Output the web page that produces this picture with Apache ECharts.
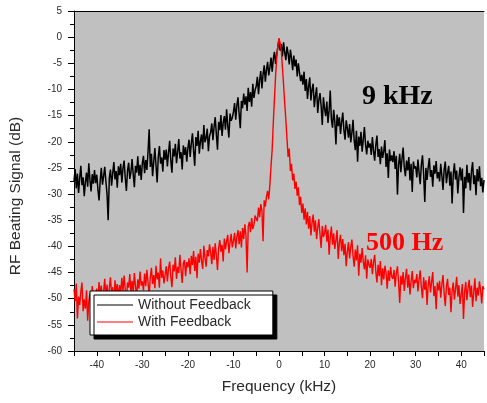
<!DOCTYPE html>
<html>
<head>
<meta charset="utf-8">
<script src="https://cdn.jsdelivr.net/npm/echarts@6/dist/echarts.min.js"></script>
<style>html,body{margin:0;padding:0;background:#fff;}#chart{width:487px;height:403px;}</style>
</head>
<body>
<div id="chart"></div>
<script>
// Frequency grid (kHz): first sample and spacing of the spectrum samples
var freqStart = -45;
var freqStep = 0.25;

// Axis ticks
var xTickLabels = [-40, -30, -20, -10, 0, 10, 20, 30, 40];
var yTickLabels = [5, 0, -5, -10, -15, -20, -25, -30, -35, -40, -45, -50, -55, -60];

var seriesNames = ['Without Feedback', 'With Feedback'];

// RF beating signal (dB), without feedback (0.25 kHz steps from -45 to 45)
var withoutFeedback = [
-27.5,-25.2,-28.9,-26.1,-29.8,-27.0,-24.6,-28.3,-26.8,-30.4,-27.7,-25.9,-28.6,-24.1,-27.3,-29.5,-26.2,-28.0,-25.4,-27.9,
-26.3,-29.1,-31.2,-27.4,-25.0,-28.2,-26.6,-24.8,-27.5,-30.0,-35.0,-26.9,-25.3,-28.4,-26.0,-23.9,-27.2,-25.6,-28.8,-24.7,
-26.4,-24.2,-27.8,-25.1,-23.6,-26.9,-29.4,-25.5,-24.0,-27.1,-25.8,-23.3,-26.2,-28.7,-24.6,-25.9,-22.8,-26.5,-24.4,-27.3,
-24.1,-22.7,-26.0,-23.5,-25.4,-21.9,-17.6,-24.8,-22.3,-26.6,-23.9,-21.2,-24.5,-27.8,-22.9,-20.8,-24.2,-23.0,-25.7,-21.6,
-23.4,-21.5,-24.7,-22.1,-19.8,-23.6,-25.9,-21.3,-22.8,-20.4,-24.1,-21.9,-19.5,-23.2,-22.0,-25.3,-20.7,-22.5,-21.0,-23.8,
-21.2,-19.6,-22.9,-20.3,-18.4,-21.7,-24.6,-19.1,-20.8,-17.9,-22.3,-19.9,-18.6,-21.4,-16.8,-20.1,-19.3,-17.5,-21.8,-18.9,
-18.2,-16.5,-19.7,-17.1,-15.3,-18.6,-21.5,-16.2,-17.8,-14.9,-18.9,-16.4,-15.1,-17.7,-13.8,-16.9,-19.2,-14.6,-16.0,-15.4,
-14.3,-12.6,-15.8,-13.1,-11.5,-14.7,-17.4,-12.2,-13.6,-10.8,-12.9,-11.3,-14.1,-9.7,-12.4,-10.5,-13.3,-8.9,-11.6,-10.1,
-9.4,-7.6,-10.9,-8.2,-6.5,-9.8,-7.1,-5.4,-8.5,-6.2,-4.7,-7.3,-5.8,-3.9,-6.6,-4.2,-2.8,-5.1,-3.3,-1.9,
-0.4,-2.6,-1.3,-3.7,-1.0,-2.9,-4.4,-1.8,-3.1,-5.2,-2.4,-4.0,-6.3,-3.5,-5.6,-4.3,-7.5,-5.0,-6.8,-8.4,
-7.2,-9.1,-6.6,-10.3,-8.0,-11.8,-9.4,-7.7,-12.1,-10.0,-8.9,-13.4,-11.2,-9.6,-14.5,-12.0,-10.7,-13.2,-16.8,-11.5,
-13.6,-15.1,-12.3,-16.4,-14.0,-10.2,-15.7,-17.3,-13.9,-16.1,-20.5,-14.8,-17.0,-15.3,-18.5,-16.2,-14.4,-17.8,-19.6,-15.9,
-17.4,-19.2,-16.6,-20.1,-18.3,-15.8,-19.7,-21.6,-17.9,-23.8,-19.0,-20.8,-18.1,-21.9,-19.5,-17.2,-20.6,-22.4,-19.8,-21.1,
-20.3,-22.5,-19.1,-21.7,-23.6,-20.6,-18.8,-22.9,-21.4,-24.3,-20.9,-23.1,-21.8,-19.7,-24.8,-22.2,-26.9,-21.5,-23.7,-22.6,
-23.9,-21.8,-25.2,-22.7,-30.1,-24.4,-22.3,-25.8,-23.3,-21.1,-24.9,-26.6,-23.6,-25.5,-22.9,-27.4,-24.2,-29.6,-23.8,-25.1,
-24.7,-26.8,-23.4,-25.9,-28.1,-24.3,-22.6,-26.2,-31.5,-25.0,-27.3,-24.9,-23.1,-26.7,-25.4,-28.6,-24.5,-26.1,-23.7,-27.0,
-25.8,-27.6,-24.2,-26.5,-29.2,-25.3,-23.8,-27.9,-26.0,-24.6,-28.4,-25.7,-31.8,-26.3,-24.1,-27.2,-25.5,-29.9,-26.8,-24.9,
-27.4,-25.1,-33.6,-26.7,-28.9,-24.4,-27.8,-26.0,-29.3,-25.6,-23.9,-28.1,-26.4,-30.2,-25.2,-27.6,-24.7,-28.5,-26.9,-29.7,
-27.3
];

// RF beating signal (dB), with feedback (0.25 kHz steps from -45 to 45)
var withFeedback = [
-48.2,-50.5,-47.1,-53.8,-49.6,-51.2,-48.7,-46.9,-52.4,-50.1,-51.9,-48.4,-54.2,-50.6,-49.0,-51.5,-47.6,-49.8,-52.1,-48.9,
-48.1,-50.3,-46.8,-49.4,-47.5,-51.0,-48.6,-46.2,-49.9,-47.3,-50.7,-48.0,-45.9,-49.2,-47.8,-51.6,-46.5,-48.9,-47.2,-50.0,
-47.4,-49.1,-46.0,-48.5,-45.6,-48.2,-50.4,-46.9,-47.9,-45.3,-49.0,-46.6,-48.8,-45.1,-47.7,-49.6,-46.3,-48.1,-44.8,-47.5,
-46.7,-48.4,-45.2,-47.6,-44.5,-46.9,-49.3,-45.8,-44.1,-47.2,-45.5,-48.0,-43.7,-46.3,-45.0,-47.9,-42.3,-46.0,-44.6,-47.1,
-45.4,-43.8,-46.7,-44.2,-42.9,-45.9,-47.8,-43.5,-44.8,-42.1,-46.2,-43.9,-45.1,-41.6,-44.5,-47.0,-43.2,-42.6,-45.7,-43.0,
-44.0,-42.3,-45.3,-41.8,-43.6,-40.9,-44.7,-42.0,-46.1,-41.4,-43.1,-40.5,-42.8,-44.3,-39.9,-42.2,-43.9,-40.7,-41.9,-39.6,
-41.2,-43.4,-40.1,-42.6,-39.4,-41.7,-44.5,-40.3,-38.8,-41.0,-39.7,-42.9,-38.5,-40.6,-39.0,-37.8,-41.3,-39.3,-37.6,-40.2,
-39.0,-37.4,-40.4,-38.2,-36.9,-39.6,-37.1,-40.2,-36.5,-38.6,-35.8,-37.9,-45.0,-36.2,-35.3,-37.3,-34.6,-36.7,-35.9,-34.1,
-33.8,-35.2,-32.6,-34.4,-31.9,-33.1,-39.0,-31.2,-32.4,-30.5,-29.4,-31.0,-28.2,-24.6,-21.5,-16.3,-11.8,-7.4,-3.9,-1.6,
-0.2,-1.2,-2.5,-5.8,-9.0,-12.6,-15.8,-19.4,-22.9,-21.3,-25.6,-24.2,-27.4,-26.1,-29.0,-27.6,-30.3,-28.7,-32.1,-30.5,
-33.6,-31.8,-34.9,-32.7,-35.8,-33.4,-36.6,-34.2,-37.9,-35.5,-33.9,-37.2,-35.0,-38.6,-36.4,-34.8,-37.7,-40.3,-36.1,-38.2,
-37.4,-35.9,-39.1,-36.8,-41.6,-38.3,-36.2,-39.7,-37.5,-40.5,-38.8,-36.9,-42.4,-39.3,-37.8,-40.9,-38.6,-41.7,-39.5,-43.8,
-41.0,-39.2,-42.3,-40.1,-38.7,-41.8,-43.9,-40.6,-42.7,-39.8,-45.6,-41.4,-43.1,-40.3,-42.9,-44.4,-41.7,-46.2,-42.5,-43.6,
-44.1,-42.4,-45.3,-43.0,-41.6,-44.8,-46.9,-43.5,-45.7,-42.8,-47.4,-44.2,-46.3,-43.7,-45.0,-48.1,-44.6,-46.6,-43.9,-45.8,
-46.2,-44.5,-47.7,-45.1,-43.8,-46.9,-50.8,-45.6,-47.3,-44.9,-48.5,-46.0,-44.3,-47.9,-45.4,-49.2,-46.7,-44.7,-48.0,-46.4,
-47.0,-45.3,-48.6,-46.2,-44.6,-47.8,-49.9,-45.9,-48.3,-46.5,-51.2,-47.4,-45.7,-48.8,-46.8,-44.9,-49.5,-47.6,-52.0,-46.9,
-48.4,-46.6,-49.8,-47.3,-45.5,-48.9,-51.4,-47.7,-46.2,-49.3,-47.9,-52.6,-48.5,-46.9,-50.2,-48.1,-45.8,-49.6,-47.4,-51.0,
-49.1,-47.2,-53.9,-48.6,-46.8,-50.3,-48.0,-46.4,-49.7,-47.5,-51.6,-48.8,-46.1,-50.5,-47.9,-49.4,-46.7,-48.3,-50.9,-47.6,
-48.2
];

var annotations = [
  { text: '9 kHz', color: '#000000' },
  { text: '500 Hz', color: '#ff0000' }
];

function pairs(vals) {
  var out = [];
  for (var i = 0; i < vals.length; i++) out.push([freqStart + i * freqStep, vals[i]]);
  return out;
}

var chart = echarts.init(document.getElementById('chart'), null, { renderer: 'canvas' });
var labelFont = { fontFamily: 'Liberation Sans, Arial, sans-serif', fontSize: 10, color: '#2a2a2a' };

chart.setOption({
  animation: false,
  backgroundColor: '#ffffff',
  grid: { left: 74, top: 11, right: -2, bottom: 52, show: true, backgroundColor: '#c0c0c0', borderWidth: 0 },
  xAxis: [{
    type: 'value', min: -45, max: 45, interval: 5, position: 'bottom',
    name: 'Frequency (kHz)', nameLocation: 'middle', nameGap: 28,
    nameTextStyle: { fontFamily: 'Liberation Sans, Arial, sans-serif', fontSize: 15.5, color: '#2a2a2a' },
    axisLine: { show: true, onZero: false, lineStyle: { color: '#000', width: 1 } },
    axisTick: { show: true, length: 5, lineStyle: { color: '#000' } },
    axisLabel: Object.assign({ margin: 9, formatter: function (v) { return xTickLabels.indexOf(v) >= 0 ? String(v) : ''; } }, labelFont),
    splitLine: { show: false }
  }, {
    type: 'value', min: -45, max: 45, position: 'top',
    axisLine: { show: true, onZero: false, lineStyle: { color: '#000', width: 1 } },
    axisTick: { show: false }, axisLabel: { show: false }, splitLine: { show: false }
  }],
  yAxis: {
    type: 'value', min: -60, max: 5, interval: 5,
    name: 'RF Beating Signal (dB)', nameLocation: 'middle', nameGap: 50,
    nameTextStyle: { fontFamily: 'Liberation Sans, Arial, sans-serif', fontSize: 15.5, color: '#2a2a2a', padding: [0, 30, 0, 0] },
    axisLine: { show: true, onZero: false, lineStyle: { color: '#000', width: 1 } },
    axisTick: { show: true, length: 6, lineStyle: { color: '#000' } },
    minorTick: { show: true, splitNumber: 2, length: 4, lineStyle: { color: '#000' } },
    axisLabel: Object.assign({ margin: 12, formatter: function (v) { return yTickLabels.indexOf(v) >= 0 ? String(v) : ''; } }, labelFont),
    splitLine: { show: false }
  },
  legend: {
    orient: 'vertical', left: 90, top: 291,
    padding: [7, 22, 6, 7], itemGap: 3, itemWidth: 36, itemHeight: 1, icon: 'rect',
    backgroundColor: '#ffffff', borderColor: '#000', borderWidth: 1,
    shadowColor: '#000', shadowBlur: 0, shadowOffsetX: 4, shadowOffsetY: 4,
    textStyle: { fontFamily: 'Liberation Sans, Arial, sans-serif', fontSize: 14, color: '#2a2a2a' },
    data: seriesNames
  },
  series: [{
    name: seriesNames[0], type: 'line', data: pairs(withoutFeedback),
    showSymbol: false, symbol: 'none', lineStyle: { color: '#000000', width: 1.5 }, itemStyle: { color: '#000000' }, z: 2
  }, {
    name: seriesNames[1], type: 'line', data: pairs(withFeedback),
    showSymbol: false, symbol: 'none', lineStyle: { color: '#ff0000', width: 1.4 }, itemStyle: { color: '#ff0000' }, z: 3
  }],
  graphic: [
    { type: 'text', left: 362, top: 83, z: 10, style: { text: annotations[0].text, fill: annotations[0].color, font: 'bold 28px "Liberation Serif", "Times New Roman", serif' } },
    { type: 'text', left: 366, top: 230, z: 10, style: { text: annotations[1].text, fill: annotations[1].color, font: 'bold 26px "Liberation Serif", "Times New Roman", serif' } }
  ]
});
</script>
</body>
</html>
